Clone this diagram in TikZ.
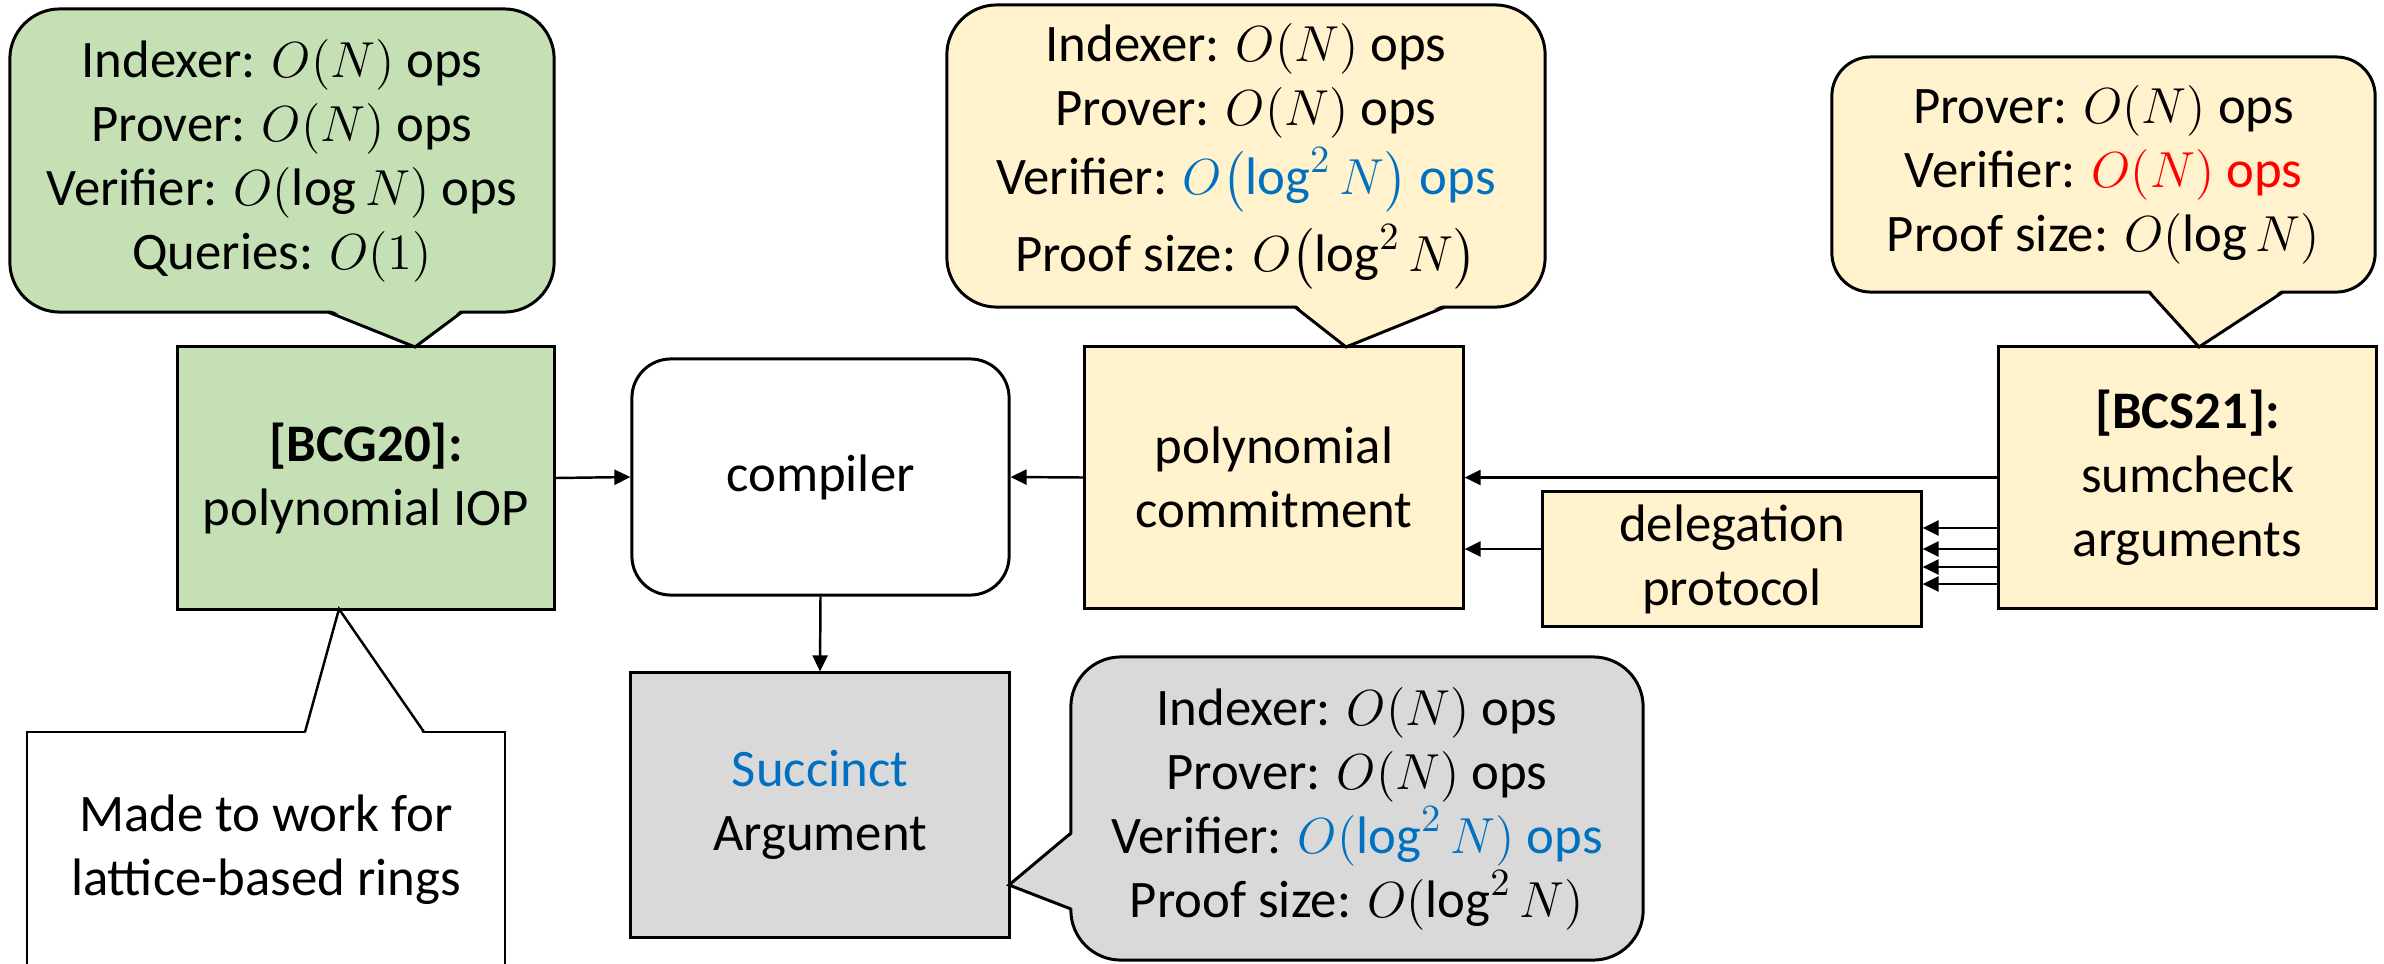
\documentclass[tikz,border=0pt]{standalone}
\usepackage{amsmath}
\usepackage{fontspec}
\setmainfont{Carlito}
\usetikzlibrary{arrows.meta}

\definecolor{leafgreen}{HTML}{C5E0B4}
\definecolor{paleyellow}{HTML}{FFF2CC}
\definecolor{boxgray}{HTML}{D9D9D9}
\definecolor{accentblue}{HTML}{0070C0}
\definecolor{alertred}{HTML}{FF0000}

\tikzset{
  txt/.style={font=\fontsize{15}{18.2}\selectfont, align=center, inner sep=0pt},
  block/.style={txt, draw, line width=0.85pt},
  outline/.style={line width=0.85pt, line join=miter},
  arr/.style={-{Triangle[length=0.16cm,width=0.15cm]}, line width=0.7pt},
}

\begin{document}
\begin{tikzpicture}[x=0.01cm, y=-0.01cm]
\clip (0,0) rectangle (2384,963);
\fill[white] (0,0) rectangle (2384,963);

% ---------- main blocks ----------
\node[block, fill=leafgreen, minimum width=3.76cm, minimum height=2.62cm] (bcg) at (366,478)
  {\textbf{[BCG20]:}\\polynomial IOP};
\node[block, fill=white, rounded corners=0.39cm, minimum width=3.77cm, minimum height=2.36cm] (comp) at (820.5,477)
  {compiler};
\node[block, fill=paleyellow, minimum width=3.78cm, minimum height=2.61cm] (pc) at (1274,477.5)
  {polynomial\\commitment};
\node[block, fill=paleyellow, minimum width=3.78cm, minimum height=1.34cm] (dp) at (1732,559)
  {delegation\\protocol};
\node[block, fill=paleyellow, minimum width=3.77cm, minimum height=2.61cm] (sc) at (2187.5,477.5)
  {\textbf{[BCS21]:}\\sumcheck\\arguments};
\node[block, fill=boxgray, minimum width=3.78cm, minimum height=2.64cm] (sa) at (820,805)
  {{\color{accentblue}Succinct}\\Argument};

% ---------- callouts ----------
% green callout above [BCG20]
\node[block, fill=leafgreen, rounded corners=0.5cm, minimum width=5.44cm, minimum height=3.03cm] (cg) at (282,160.5)
  {Indexer: $O(N)$ ops\\Prover: $O(N)$ ops\\Verifier: $O(\log N)$ ops\\Queries: $O(1)$};
\fill[leafgreen] (328,309) -- (415,347) -- (462,309) -- cycle;
\draw[outline] (328,312) -- (415,347) -- (462,312);

% yellow callout above the polynomial commitment
\node[block, fill=paleyellow, rounded corners=0.5cm, minimum width=5.98cm, minimum height=3.02cm] (cy) at (1246,156)
  {Indexer: $O(N)$ ops\\Prover: $O(N)$ ops\\[1.5pt]
   Verifier: {\color{accentblue}$O\bigl(\log^2 N\bigr)$ ops}\\[2.5pt]
   Proof size: $O\bigl(\log^2 N\bigr)$};
\fill[paleyellow] (1295,304) -- (1346,347) -- (1445,304) -- cycle;
\draw[outline] (1295,307) -- (1346,347) -- (1445,307);

% yellow callout above the sumcheck arguments
\node[block, fill=paleyellow, rounded corners=0.39cm, minimum width=5.43cm, minimum height=2.35cm] (cr) at (2103.5,174.5)
  {Prover: $O(N)$ ops\\Verifier: {\color{alertred}$O(N)$ ops}\\Proof size: $O(\log N)$};
\fill[paleyellow] (2149,289) -- (2199,347) -- (2283,289) -- cycle;
\draw[outline] (2149,292) -- (2199,347) -- (2283,292);

% gray callout beside the succinct argument
\node[block, fill=boxgray, rounded corners=0.5cm, minimum width=5.72cm, minimum height=3.03cm] (cgy) at (1357,808.5)
  {Indexer: $O(N)$ ops\\Prover: $O(N)$ ops\\
   Verifier: {\color{accentblue}$O(\log^2 N)$ ops}\\
   Proof size: $O(\log^2 N)$};
\fill[boxgray] (1074,833) -- (1009,885) -- (1074,909) -- cycle;
\draw[outline] (1071,833) -- (1009,885) -- (1071,909);

% white note below [BCG20]
\node[block, fill=white, line width=0.7pt, minimum width=4.78cm, minimum height=2.36cm] (cw) at (266,850)
  {Made to work for\\lattice-based rings};
\fill[white] (305,735) -- (339,609) -- (424,735) -- cycle;
\draw[outline, line width=0.7pt] (305,732) -- (339,609) -- (424,732);

% ---------- connectors ----------
\draw[arr] (bcg.east) -- (comp.west);
\draw[arr] (pc.west) -- (comp.east);
\draw[arr] (comp.south) -- (sa.north);
\draw[arr] (sc.west) -- (pc.east);
\draw[arr] ([yshift=0.1cm]dp.west) -- ([yshift=0.1cm]dp.west -| pc.east);
\foreach \s in {0.31,0.10,-0.08,-0.25}
  \draw[arr] ([yshift=\s cm]dp.east -| sc.west) -- ([yshift=\s cm]dp.east);
\end{tikzpicture}
\end{document}
